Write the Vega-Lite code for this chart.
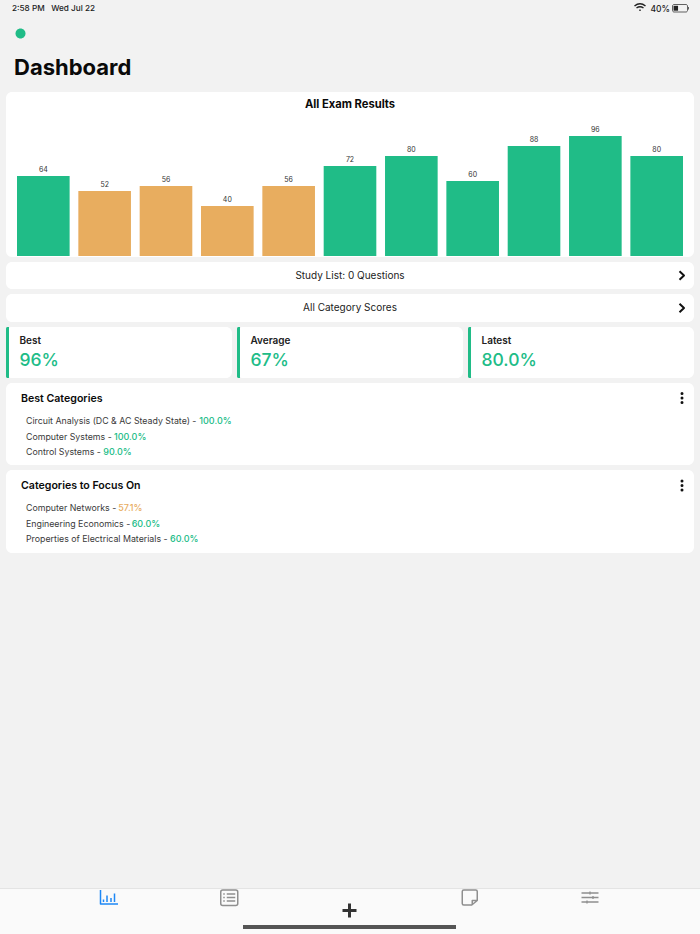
{
  "$schema": "https://vega.github.io/schema/vega-lite/v6.json",
  "padding": 0,
  "background": "#f2f2f2",
  "spacing": 5,
  "resolve": {"scale": {"shape": "independent", "stroke": "independent", "strokeWidth": "independent"}},
  "config": {
    "font": "Inter",
    "axis": {"disable": true},
    "legend": {"disable": true},
    "view": {"fill": "#ffffff", "stroke": null, "cornerRadius": 6}
  },
  "vconcat": [
    {
      "width": 700,
      "height": 87,
      "view": {"fill": null, "stroke": null},
      "layer": [
        {
          "data": {"values": [{"text": "2:58 PM\u00a0\u00a0\u00a0Wed Jul 22"}]},
          "mark": {"type": "text", "align": "left", "baseline": "middle", "dx": 12, "dy": 8.5, "fontSize": 8.2, "fontWeight": 500, "color": "#222222"},
          "encoding": {"x": {"datum": 0, "scale": {"domain": [0, 1]}}, "y": {"datum": 1, "scale": {"domain": [0, 1]}}, "text": {"field": "text"}}
        },
        {
          "data": {"values": [{"text": "Dashboard"}]},
          "mark": {"type": "text", "align": "left", "baseline": "middle", "dx": 14, "dy": 68, "fontSize": 22, "fontWeight": 700, "color": "#0a0a0a"},
          "encoding": {"x": {"datum": 0, "scale": {"domain": [0, 1]}}, "y": {"datum": 1, "scale": {"domain": [0, 1]}}, "text": {"field": "text"}}
        },
        {
          "data": {"values": [{"text": "40%"}]},
          "mark": {"type": "text", "align": "right", "baseline": "middle", "dx": -30, "dy": 8.5, "fontSize": 8.5, "fontWeight": 500, "color": "#222222"},
          "encoding": {"x": {"datum": 1, "scale": {"domain": [0, 1]}}, "y": {"datum": 1, "scale": {"domain": [0, 1]}}, "text": {"field": "text"}}
        },
        {
          "data": {"values": [{"icon": "status dot"}]},
          "mark": {"type": "point", "filled": true, "opacity": 1, "size": 4, "color": "#20bc87", "shape": "M15.5 33.5a5 5 0 1 0 10 0a5 5 0 1 0 -10 0z"},
          "encoding": {"x": {"datum": 0, "scale": {"domain": [0, 1]}}, "y": {"datum": 1, "scale": {"domain": [0, 1]}}}
        },
        {
          "data": {"values": [{"icon": "wifi"}, {"icon": "battery"}, {"icon": "charge"}]},
          "mark": {"type": "point", "filled": false, "opacity": 1, "size": 4, "strokeCap": "butt", "strokeJoin": "round"},
          "encoding": {
            "x": {"datum": 1, "scale": {"domain": [0, 1]}},
            "y": {"datum": 1, "scale": {"domain": [0, 1]}},
            "shape": {
              "field": "icon",
              "scale": {
                "domain": ["wifi", "battery", "charge"],
                "range": [
                  "M-65.5 6Q-60 1.5 -54.5 6M-63.5 8Q-60 5.5 -56.5 8M-60.7 10.2L-59.3 10.2",
                  "M-26 4.5H-14a1.5 1.5 0 0 1 1.5 1.5V10.5a1.5 1.5 0 0 1 -1.5 1.5H-26a1.5 1.5 0 0 1 -1.5 -1.5V6a1.5 1.5 0 0 1 1.5 -1.5zM-11.5 7V9.5",
                  "M-24.2 5.8V10.7"
                ]
              }
            },
            "stroke": {"value": "#222222"},
            "strokeWidth": {
              "field": "icon",
              "type": "nominal",
              "scale": {"type": "ordinal", "domain": ["wifi", "battery", "charge"], "range": [1.5, 0.7, 4.5]}
            }
          }
        }
      ]
    },
    {
      "spacing": 5,
      "hconcat": [
        {"width": 1, "height": 1, "view": {"fill": null, "stroke": null}, "data": {"values": []}, "mark": "text"},
        {
          "title": {"text": "All Exam Results", "anchor": "middle", "frame": "group", "offset": -18, "fontSize": 11.2, "fontWeight": 700, "color": "#0a0a0a"},
          "width": 688,
          "height": 165,
          "data": {
            "values": [
              {"exam": 1, "score": 64, "status": "pass"},
              {"exam": 2, "score": 52, "status": "warn"},
              {"exam": 3, "score": 56, "status": "warn"},
              {"exam": 4, "score": 40, "status": "warn"},
              {"exam": 5, "score": 56, "status": "warn"},
              {"exam": 6, "score": 72, "status": "pass"},
              {"exam": 7, "score": 80, "status": "pass"},
              {"exam": 8, "score": 60, "status": "pass"},
              {"exam": 9, "score": 88, "status": "pass"},
              {"exam": 10, "score": 96, "status": "pass"},
              {"exam": 11, "score": 80, "status": "pass"}
            ]
          },
          "encoding": {
            "x": {"field": "exam", "type": "ordinal", "scale": {"type": "band", "range": [11, 677], "paddingInner": 0.142, "paddingOuter": 0}},
            "y": {"field": "score", "type": "quantitative", "scale": {"domain": [0, 100], "range": [164, 39]}}
          },
          "layer": [
            {
              "mark": "bar",
              "encoding": {"color": {"field": "status", "scale": {"domain": ["pass", "warn"], "range": ["#20bc87", "#e8ad5f"]}}}
            },
            {
              "mark": {"type": "text", "baseline": "bottom", "dy": -3, "fontSize": 7, "color": "#333333"},
              "encoding": {"text": {"field": "score"}}
            }
          ]
        }
      ]
    },
    {
      "spacing": 5,
      "hconcat": [
        {"width": 1, "height": 1, "view": {"fill": null, "stroke": null}, "data": {"values": []}, "mark": "text"},
        {
          "width": 688,
          "height": 27,
          "data": {"values": [{"label": "Study List: 0 Questions"}]},
          "layer": [
            {"mark": {"type": "text", "fontSize": 10, "color": "#222222"}, "encoding": {"text": {"field": "label"}}},
            {
              "mark": {"type": "point", "filled": false, "opacity": 1, "size": 4, "shape": "M-14.5 -4.2L-10 0L-14.5 4.2", "stroke": "#111111", "strokeWidth": 2, "strokeJoin": "round"},
              "encoding": {"x": {"datum": 1, "scale": {"domain": [0, 1]}}}
            }
          ]
        }
      ]
    },
    {
      "spacing": 5,
      "hconcat": [
        {"width": 1, "height": 1, "view": {"fill": null, "stroke": null}, "data": {"values": []}, "mark": "text"},
        {
          "width": 688,
          "height": 28,
          "data": {"values": [{"label": "All Category Scores"}]},
          "layer": [
            {"mark": {"type": "text", "fontSize": 10, "color": "#222222"}, "encoding": {"text": {"field": "label"}}},
            {
              "mark": {"type": "point", "filled": false, "opacity": 1, "size": 4, "shape": "M-14.5 -4.2L-10 0L-14.5 4.2", "stroke": "#111111", "strokeWidth": 2, "strokeJoin": "round"},
              "encoding": {"x": {"datum": 1, "scale": {"domain": [0, 1]}}}
            }
          ]
        }
      ]
    },
    {
      "spacing": 5,
      "hconcat": [
        {"width": 1, "height": 1, "view": {"fill": null, "stroke": null}, "data": {"values": []}, "mark": "text"},
        {
          "width": 226,
          "height": 51,
          "data": {"values": [{"stat": "Best", "value": "96%", "status": "pass"}]},
          "encoding": {"x": {"datum": 0, "scale": {"domain": [0, 1], "range": [0, 3]}}, "y": {"datum": 1, "scale": {"domain": [0, 1]}}},
          "layer": [
            {"mark": {"type": "rect", "color": "#20bc87", "cornerRadiusTopLeft": 3, "cornerRadiusBottomLeft": 3}, "encoding": {"x2": {"datum": 1}, "y": {"datum": 0, "scale": {"domain": [0, 1]}}, "y2": {"datum": 1}}},
            {"mark": {"type": "text", "align": "left", "baseline": "middle", "dx": 13.5, "dy": 13.5, "fontSize": 10, "fontWeight": 600, "color": "#222222"}, "encoding": {"text": {"field": "stat"}}},
            {"mark": {"type": "text", "align": "left", "baseline": "middle", "dx": 13.5, "dy": 34, "fontSize": 17.5, "fontWeight": 500, "color": "#20bc87"}, "encoding": {"text": {"field": "value"}}}
          ]
        },
        {
          "width": 226,
          "height": 51,
          "data": {"values": [{"stat": "Average", "value": "67%", "status": "pass"}]},
          "encoding": {"x": {"datum": 0, "scale": {"domain": [0, 1], "range": [0, 3]}}, "y": {"datum": 1, "scale": {"domain": [0, 1]}}},
          "layer": [
            {"mark": {"type": "rect", "color": "#20bc87", "cornerRadiusTopLeft": 3, "cornerRadiusBottomLeft": 3}, "encoding": {"x2": {"datum": 1}, "y": {"datum": 0, "scale": {"domain": [0, 1]}}, "y2": {"datum": 1}}},
            {"mark": {"type": "text", "align": "left", "baseline": "middle", "dx": 13.5, "dy": 13.5, "fontSize": 10, "fontWeight": 600, "color": "#222222"}, "encoding": {"text": {"field": "stat"}}},
            {"mark": {"type": "text", "align": "left", "baseline": "middle", "dx": 13.5, "dy": 34, "fontSize": 17.5, "fontWeight": 500, "color": "#20bc87"}, "encoding": {"text": {"field": "value"}}}
          ]
        },
        {
          "width": 226,
          "height": 51,
          "data": {"values": [{"stat": "Latest", "value": "80.0%", "status": "pass"}]},
          "encoding": {"x": {"datum": 0, "scale": {"domain": [0, 1], "range": [0, 3]}}, "y": {"datum": 1, "scale": {"domain": [0, 1]}}},
          "layer": [
            {"mark": {"type": "rect", "color": "#20bc87", "cornerRadiusTopLeft": 3, "cornerRadiusBottomLeft": 3}, "encoding": {"x2": {"datum": 1}, "y": {"datum": 0, "scale": {"domain": [0, 1]}}, "y2": {"datum": 1}}},
            {"mark": {"type": "text", "align": "left", "baseline": "middle", "dx": 13.5, "dy": 13.5, "fontSize": 10, "fontWeight": 600, "color": "#222222"}, "encoding": {"text": {"field": "stat"}}},
            {"mark": {"type": "text", "align": "left", "baseline": "middle", "dx": 13.5, "dy": 34, "fontSize": 17.5, "fontWeight": 500, "color": "#20bc87"}, "encoding": {"text": {"field": "value"}}}
          ]
        }
      ]
    },
    {
      "spacing": 5,
      "hconcat": [
        {"width": 1, "height": 1, "view": {"fill": null, "stroke": null}, "data": {"values": []}, "mark": "text"},
        {
          "title": {"text": "Best Categories", "anchor": "start", "frame": "group", "offset": -22, "dx": 15, "fontSize": 10.6, "fontWeight": 600, "color": "#0a0a0a"},
          "width": 688,
          "height": 82,
          "data": {
            "values": [
              {"category": "Circuit Analysis (DC & AC Steady State)", "score": "100.0%", "status": "pass"},
              {"category": "Computer Systems", "score": "100.0%", "status": "pass"},
              {"category": "Control Systems", "score": "90.0%", "status": "pass"}
            ]
          },
          "transform": [{"calculate": "datum.category + ' -'", "as": "prefix"}],
          "encoding": {
            "x": {"datum": 0, "scale": {"domain": [0, 1]}},
            "y": {"field": "category", "type": "nominal", "sort": null, "scale": {"type": "point", "padding": 0, "range": [38, 69]}},
            "color": {"field": "status", "scale": {"domain": ["pass", "warn"], "range": ["#20bc87", "#e8ad5f"]}}
          },
          "layer": [
            {
              "mark": {"type": "text", "align": "left", "baseline": "middle", "dx": 20, "fontSize": 8.8},
              "encoding": {"text": {"field": "prefix"}, "color": {"value": "#3a3a3a"}}
            },
            {
              "transform": [{"filter": {"field": "category", "equal": "Circuit Analysis (DC & AC Steady State)"}}],
              "mark": {"type": "text", "align": "left", "baseline": "middle", "dx": 193.3, "fontSize": 9, "fontWeight": 500},
              "encoding": {"text": {"field": "score"}}
            },
            {
              "transform": [{"filter": {"field": "category", "equal": "Computer Systems"}}],
              "mark": {"type": "text", "align": "left", "baseline": "middle", "dx": 108, "fontSize": 9, "fontWeight": 500},
              "encoding": {"text": {"field": "score"}}
            },
            {
              "transform": [{"filter": {"field": "category", "equal": "Control Systems"}}],
              "mark": {"type": "text", "align": "left", "baseline": "middle", "dx": 97.3, "fontSize": 9, "fontWeight": 500},
              "encoding": {"text": {"field": "score"}}
            },
            {
              "data": {"values": [{"action": "menu"}]},
              "mark": {"type": "point", "filled": false, "opacity": 1, "size": 4, "shape": "M-12 -30.5v0M-12 -26v0M-12 -21.5v0", "stroke": "#111111", "strokeWidth": 3, "strokeCap": "round", "strokeJoin": "round"},
              "encoding": {"x": {"datum": 1, "scale": {"domain": [0, 1]}}, "y": null, "color": null}
            }
          ]
        }
      ]
    },
    {
      "spacing": 5,
      "hconcat": [
        {"width": 1, "height": 1, "view": {"fill": null, "stroke": null}, "data": {"values": []}, "mark": "text"},
        {
          "title": {"text": "Categories to Focus On", "anchor": "start", "frame": "group", "offset": -22, "dx": 15, "fontSize": 10.6, "fontWeight": 600, "color": "#0a0a0a"},
          "width": 688,
          "height": 83,
          "data": {
            "values": [
              {"category": "Computer Networks", "score": "57.1%", "status": "warn"},
              {"category": "Engineering Economics", "score": "60.0%", "status": "pass"},
              {"category": "Properties of Electrical Materials", "score": "60.0%", "status": "pass"}
            ]
          },
          "transform": [{"calculate": "datum.category + ' -'", "as": "prefix"}],
          "encoding": {
            "x": {"datum": 0, "scale": {"domain": [0, 1]}},
            "y": {"field": "category", "type": "nominal", "sort": null, "scale": {"type": "point", "padding": 0, "range": [38, 69]}},
            "color": {"field": "status", "scale": {"domain": ["pass", "warn"], "range": ["#20bc87", "#e8ad5f"]}}
          },
          "layer": [
            {
              "mark": {"type": "text", "align": "left", "baseline": "middle", "dx": 20, "fontSize": 8.8},
              "encoding": {"text": {"field": "prefix"}, "color": {"value": "#3a3a3a"}}
            },
            {
              "transform": [{"filter": {"field": "category", "equal": "Computer Networks"}}],
              "mark": {"type": "text", "align": "left", "baseline": "middle", "dx": 112.3, "fontSize": 9, "fontWeight": 500},
              "encoding": {"text": {"field": "score"}}
            },
            {
              "transform": [{"filter": {"field": "category", "equal": "Engineering Economics"}}],
              "mark": {"type": "text", "align": "left", "baseline": "middle", "dx": 125.7, "fontSize": 9, "fontWeight": 500},
              "encoding": {"text": {"field": "score"}}
            },
            {
              "transform": [{"filter": {"field": "category", "equal": "Properties of Electrical Materials"}}],
              "mark": {"type": "text", "align": "left", "baseline": "middle", "dx": 164, "fontSize": 9, "fontWeight": 500},
              "encoding": {"text": {"field": "score"}}
            },
            {
              "data": {"values": [{"action": "menu"}]},
              "mark": {"type": "point", "filled": false, "opacity": 1, "size": 4, "shape": "M-12 -30.5v0M-12 -26v0M-12 -21.5v0", "stroke": "#111111", "strokeWidth": 3, "strokeCap": "round", "strokeJoin": "round"},
              "encoding": {"x": {"datum": 1, "scale": {"domain": [0, 1]}}, "y": null, "color": null}
            }
          ]
        }
      ]
    },
    {"width": 700, "height": 325, "view": {"fill": null, "stroke": null}, "data": {"values": []}, "mark": "text"},
    {
      "width": 700,
      "height": 46,
      "view": {"fill": "#fafafa", "stroke": null, "cornerRadius": 0},
      "layer": [
        {
          "data": {"values": [{"edge": "top"}]},
          "mark": {"type": "rect", "color": "#e4e4e4"},
          "encoding": {"y": {"datum": 0, "scale": {"domain": [0, 1], "range": [0, 1]}}, "y2": {"datum": 1}}
        },
        {
          "data": {
            "values": [
              {"tab": "Stats", "icon": "stats"},
              {"tab": "List", "icon": "list"},
              {"tab": "Add", "icon": "add"},
              {"tab": "Add", "icon": "home"},
              {"tab": "Notes", "icon": "notes"},
              {"tab": "Settings", "icon": "settings"}
            ]
          },
          "mark": {"type": "point", "filled": false, "opacity": 1, "size": 4, "strokeCap": "butt", "strokeJoin": "round"},
          "encoding": {
            "x": {
              "field": "tab",
              "type": "nominal",
              "sort": null,
              "scale": {"type": "point", "padding": 0, "domain": ["Stats", "List", "Add", "Notes", "Settings"], "range": [109, 590]}
            },
            "shape": {
              "field": "icon",
              "scale": {
                "domain": ["stats", "list", "add", "home", "notes", "settings"],
                "range": [
                  "M-8.5 -21V-7H9M-5.5 -11.5V-9M-2 -15.5V-9M2 -13V-9M5.5 -17.5V-9",
                  "M-6.5 -21H6.5a2 2 0 0 1 2 2V-7.5a2 2 0 0 1 -2 2H-6.5a2 2 0 0 1 -2 -2V-19a2 2 0 0 1 2 -2zM-6 -17H-4.5M-2.5 -17H6M-6 -13.5H-4.5M-2.5 -13.5H6M-6 -10H-4.5M-2.5 -10H6",
                  "M-7 -0.5H7M0 -7.5V6.5",
                  "M-106.5 16H106.5",
                  "M-6 -21H6a1.5 1.5 0 0 1 1.5 1.5V-10.5L2 -6H-6a1.5 1.5 0 0 1 -1.5 -1.5V-19.5a1.5 1.5 0 0 1 1.5 -1.5zM7 -10.5H2.5V-6.5",
                  "M-8.5 -18H8.5M-8.5 -13.5H8.5M-8.5 -9H8.5M0 -19.5V-16.5M3 -15V-12M-3 -10.5V-7.5"
                ]
              }
            },
            "stroke": {
              "field": "icon",
              "scale": {
                "domain": ["stats", "list", "add", "home", "notes", "settings"],
                "range": ["#1e88f5", "#8f8f8f", "#333333", "#555555", "#8f8f8f", "#8f8f8f"]
              }
            },
            "strokeWidth": {
              "field": "icon",
              "type": "nominal",
              "scale": {
                "type": "ordinal",
                "domain": ["stats", "list", "add", "home", "notes", "settings"],
                "range": [1.5, 1.5, 3, 4, 1.5, 1.3]
              }
            }
          }
        }
      ]
    }
  ]
}
